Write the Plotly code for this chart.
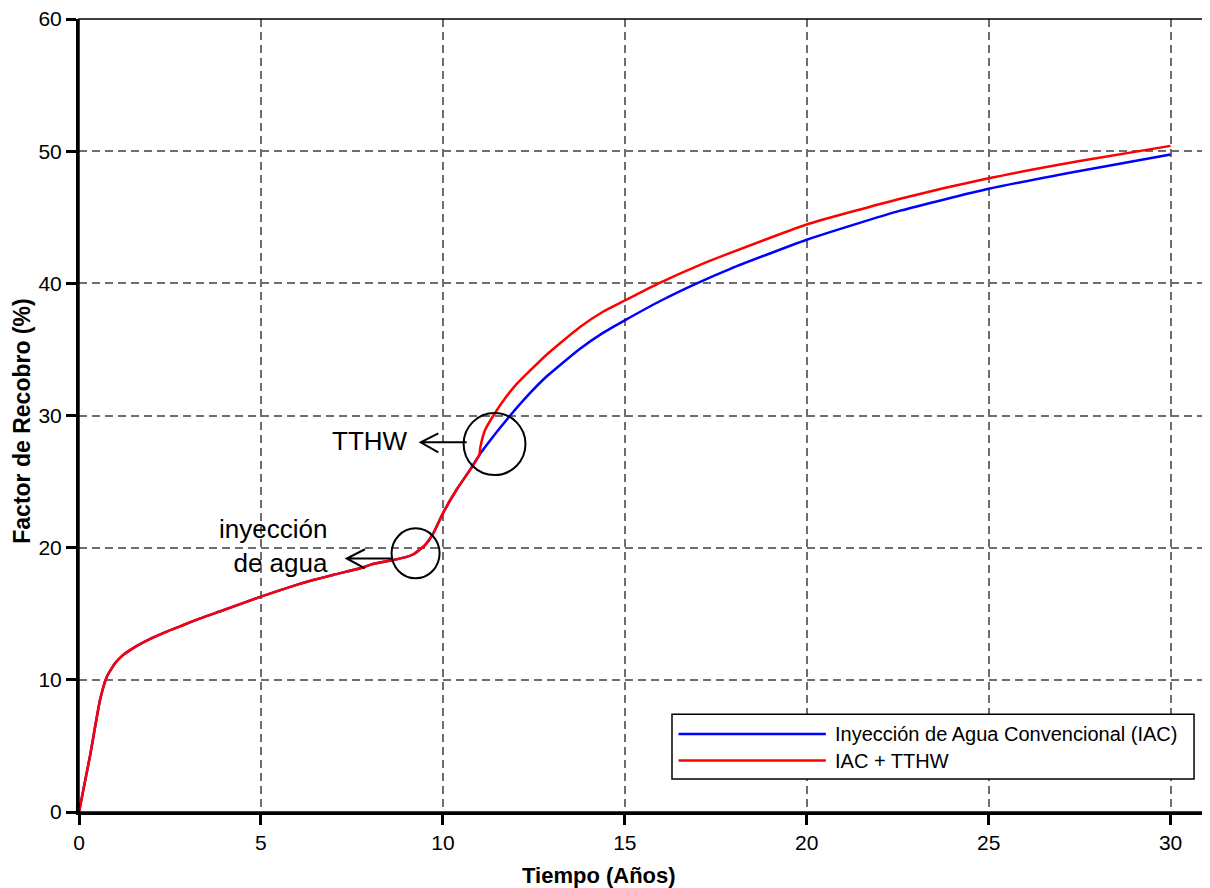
import plotly.graph_objects as go

# ---- data ----
t_shared = [0, 0.3, 0.58, 0.76, 0.99, 1.2, 1.49, 2.0, 2.41, 2.78, 3.33, 4.0, 5.0, 6.0, 6.44,
            7.0, 7.81, 8.0, 8.64, 9.0, 9.19, 9.51, 9.74, 10.0, 10.38, 10.75, 11.0]
fr_shared = [0, 4.2, 8.5, 10.2, 11.25, 11.85, 12.4, 13.15, 13.65, 14.05, 14.65, 15.3, 16.3, 17.2, 17.55,
             17.95, 18.5, 18.7, 19.07, 19.3, 19.5, 20.2, 21.1, 22.6, 24.4, 25.9, 27.0]

t_iac_tail = [11.03, 11.48, 11.85, 12.26, 12.85, 13.77, 14.4, 15.0, 16.0, 16.98, 17.9, 20.0, 22.57, 25.0, 27.5, 30.0]
fr_iac_tail = [27.12, 28.75, 30.0, 31.3, 32.95, 35.05, 36.25, 37.2, 38.7, 40.0, 41.1, 43.3, 45.5, 47.15, 48.5, 49.75]

t_tthw_tail = [11.03, 11.16, 11.39, 11.71, 12.0, 12.85, 13.77, 14.4, 15.0, 15.93, 17.07, 17.9, 20.0, 22.57, 25.0, 27.5, 30.0]
fr_tthw_tail = [27.6, 28.9, 30.0, 31.3, 32.3, 34.6, 36.7, 37.85, 38.7, 40.0, 41.4, 42.3, 44.45, 46.4, 47.95, 49.25, 50.4]

series_names = ["Inyección de Agua Convencional (IAC)", "IAC + TTHW"]
series_colors = ["#0000FF", "#FF0000"]
x_ticks = [0, 5, 10, 15, 20, 25, 30]
y_ticks = [0, 10, 20, 30, 40, 50, 60]

t_iac = t_shared + t_iac_tail
fr_iac = fr_shared + fr_iac_tail
t_tthw = t_shared + t_tthw_tail
fr_tthw = fr_shared + fr_tthw_tail

FONT = "Liberation Sans, Arial, sans-serif"

fig = go.Figure()
fig.add_trace(go.Scatter(x=t_iac, y=fr_iac, mode="lines", name=series_names[0],
                         line=dict(color=series_colors[0], width=2.5, shape="spline", smoothing=0.5),
                         showlegend=False))
fig.add_trace(go.Scatter(x=t_tthw, y=fr_tthw, mode="lines", name=series_names[1],
                         line=dict(color=series_colors[1], width=2.5, shape="spline", smoothing=0.5),
                         showlegend=False))

axis_common = dict(
    ticks="outside", ticklen=10, tickwidth=3, tickcolor="black",
    showline=True, linewidth=3, linecolor="black",
    showgrid=True, gridcolor="#6e6e6e", gridwidth=1.5, griddash="8px,5px",
    zeroline=False, tickfont=dict(size=21, family=FONT, color="black"),
    ticklabeloverflow="allow", automargin=False,
)
fig.update_xaxes(range=[0, 31], tickvals=x_ticks, **axis_common)
fig.update_yaxes(range=[0, 60], tickvals=y_ticks, **axis_common)

shapes = []
# thin top/right frame
shapes.append(dict(type="rect", xref="paper", yref="paper", x0=0, x1=1, y0=0, y1=1,
                   line=dict(color="black", width=1.5), layer="above"))
# circles
shapes.append(dict(type="circle", xref="x", yref="y", x0=11.42 - 0.85, x1=11.42 + 0.85,
                   y0=27.84 - 2.35, y1=27.84 + 2.35, line=dict(color="black", width=2), layer="above"))
shapes.append(dict(type="circle", xref="x", yref="y", x0=9.25 - 0.66, x1=9.25 + 0.66,
                   y0=19.57 - 1.89, y1=19.57 + 1.89, line=dict(color="black", width=2), layer="above"))
# arrows
shapes.append(dict(type="path", xref="x", yref="y",
                   path="M 10.655,27.97 L 9.391,27.97 M 9.875,28.65 L 9.391,27.97 L 9.875,27.21",
                   line=dict(color="black", width=2), layer="above"))
shapes.append(dict(type="path", xref="x", yref="y",
                   path="M 8.616,19.18 L 7.357,19.18 M 7.860,19.88 L 7.357,19.18 L 7.860,18.44",
                   line=dict(color="black", width=2), layer="above"))
# manual legend
shapes.append(dict(type="rect", xref="paper", yref="paper", x0=0.5257, x1=0.9885, y0=0.0415, y1=0.1232,
                   line=dict(color="black", width=1.5), fillcolor="white", layer="above"))
shapes.append(dict(type="line", xref="paper", yref="paper", x0=0.5315, x1=0.6621, y0=0.0985, y1=0.0985,
                   line=dict(color=series_colors[0], width=2.5), layer="above"))
shapes.append(dict(type="line", xref="paper", yref="paper", x0=0.5315, x1=0.6621, y0=0.0648, y1=0.0648,
                   line=dict(color=series_colors[1], width=2.5), layer="above"))

annotations = [
    dict(text="TTHW", x=8.0, y=28.07, xref="x", yref="y", showarrow=False,
         font=dict(size=26, family=FONT, color="black"), xanchor="center", yanchor="middle"),
    dict(text="inyección<br>de agua", x=6.90, y=20.13, xref="x", yref="y", showarrow=False, align="right",
         font=dict(size=26, family=FONT, color="black"), xanchor="right", yanchor="middle"),
    dict(text="<b>Tiempo (Años)</b>", x=0.461, y=-0.0807, xref="paper", yref="paper", showarrow=False,
         font=dict(size=22, family=FONT, color="black"), xanchor="center", yanchor="middle"),
    dict(text="<b>Factor de Recobro (%)</b>", x=-0.0505, y=0.4922, xref="paper", yref="paper",
         showarrow=False, textangle=-90,
         font=dict(size=23, family=FONT, color="black"), xanchor="center", yanchor="middle"),
    dict(text=series_names[0], x=0.668, y=0.0985, xref="paper", yref="paper", showarrow=False,
         font=dict(size=20, family=FONT, color="black"), xanchor="left", yanchor="middle"),
    dict(text=series_names[1], x=0.668, y=0.0648, xref="paper", yref="paper", showarrow=False,
         font=dict(size=20, family=FONT, color="black"), xanchor="left", yanchor="middle"),
]

fig.update_layout(
    width=1202, height=880,
    margin=dict(l=71, r=3, t=11, b=76, autoexpand=False),
    plot_bgcolor="white", paper_bgcolor="white",
    font=dict(family=FONT, color="black"),
    showlegend=False,
    shapes=shapes, annotations=annotations,
)

fig.write_html("out.html")
